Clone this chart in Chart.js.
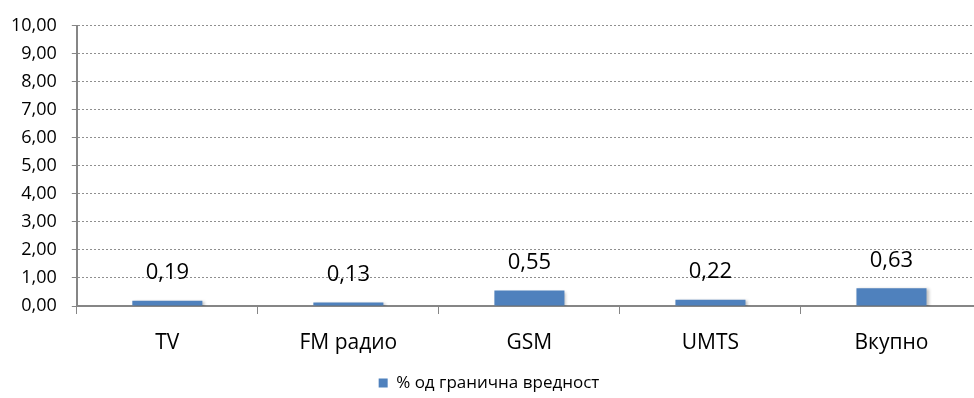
<!DOCTYPE html>
<html>
<head>
<meta charset="utf-8">
<script src="https://cdn.jsdelivr.net/npm/chart.js@4.4.1/dist/chart.umd.min.js"></script>
<style>
  html, body { margin: 0; padding: 0; background: #fff; overflow: hidden; }
  #wrap { width: 982px; height: 398px; }
</style>
</head>
<body>
<div id="wrap"><canvas id="c"></canvas></div>
<script>
const categories = ['TV', 'FM радио', 'GSM', 'UMTS', 'Вкупно'];
const values = [0.19, 0.13, 0.55, 0.22, 0.63];
const seriesName = '% од гранична вредност';
const yMin = 0, yMax = 10, yStep = 1;

const fmt = v => v.toFixed(2).replace('.', ',');
const FONT = "'Open Sans', 'Noto Sans', sans-serif";

// value labels above each bar
const valueLabels = {
  id: 'valueLabels',
  afterDatasetsDraw(chart) {
    const ctx = chart.ctx;
    const meta = chart.getDatasetMeta(0);
    ctx.save();
    ctx.font = '22px ' + FONT;
    ctx.fillStyle = '#000';
    ctx.textAlign = 'center';
    ctx.textBaseline = 'middle';
    meta.data.forEach((bar, i) => {
      ctx.fillText(fmt(values[i]), bar.x, bar.y - 28);
    });
    ctx.restore();
  }
};

// soft shadow behind bars
const barShadow = {
  id: 'barShadow',
  beforeDatasetDraw(chart) {
    const ctx = chart.ctx;
    ctx.save();
    ctx.shadowColor = 'rgba(0,0,0,0.25)';
    ctx.shadowBlur = 3;
    ctx.shadowOffsetX = 2;
    ctx.shadowOffsetY = 1;
  },
  afterDatasetDraw(chart) {
    chart.ctx.restore();
  }
};

new Chart(document.getElementById('c'), {
  type: 'bar',
  data: {
    labels: categories,
    datasets: [{
      label: seriesName,
      data: values,
      backgroundColor: '#4F81BD',
      borderWidth: 0,
      barPercentage: 0.387,
      categoryPercentage: 1.0
    }]
  },
  options: {
    responsive: true,
    maintainAspectRatio: false,
    animation: false,
    layout: { padding: { left: -4, right: 0, top: -2.8, bottom: -3.5 } },
    plugins: {
      legend: {
        position: 'bottom',
        labels: {
          font: { family: FONT, size: 17 },
          color: '#000',
          boxWidth: 9,
          boxHeight: 9,
          padding: 2.5
        }
      },
      tooltip: { enabled: false }
    },
    scales: {
      x: {
        grid: {
          display: true,
          offset: true,
          drawOnChartArea: false,
          drawTicks: true,
          tickLength: 8,
          tickColor: '#868686',
          color: '#868686'
        },
        border: { display: true, color: '#868686', width: 2 },
        ticks: {
          font: { family: FONT, size: 21, lineHeight: 2.38 },
          color: '#000',
          padding: 4
        }
      },
      y: {
        min: yMin,
        max: yMax,
        ticks: {
          stepSize: yStep,
          font: { family: FONT, size: 18 },
          color: '#000',
          padding: 15,
          callback: v => fmt(v)
        },
        grid: {
          color: '#8f8f8f',
          lineWidth: 1,
          drawTicks: true,
          tickLength: 5,
          tickColor: '#868686',
          tickBorderDash: []
        },
        border: { display: true, color: '#868686', width: 2, dash: [2, 2] }
      }
    }
  },
  plugins: [barShadow, valueLabels]
});
</script>
</body>
</html>
